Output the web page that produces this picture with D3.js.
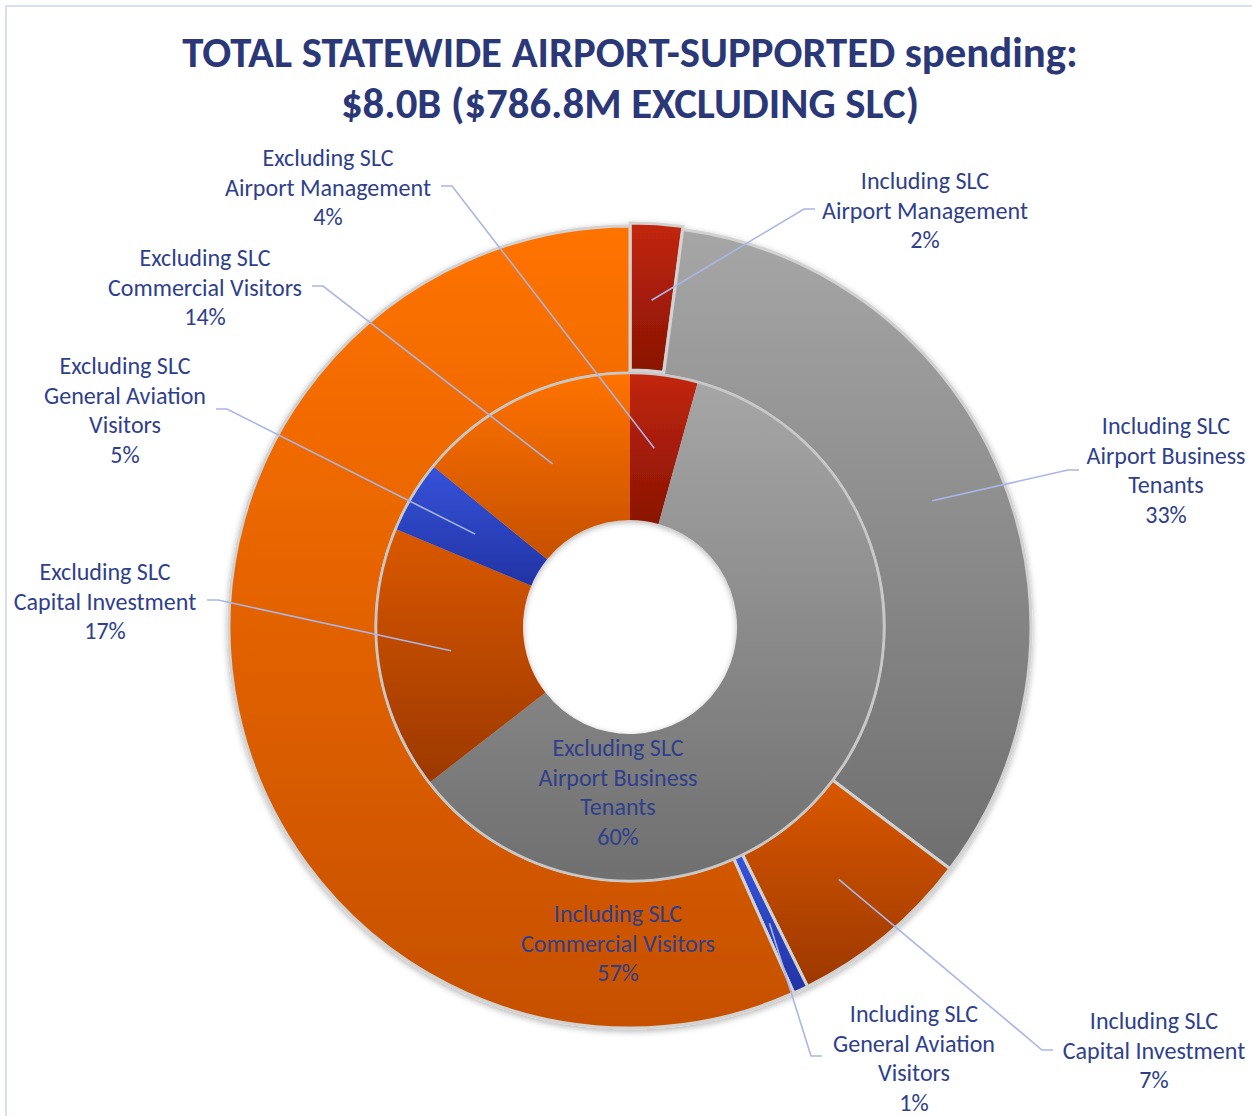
<!DOCTYPE html>
<html>
<head>
<meta charset="utf-8">
<script src="https://cdn.jsdelivr.net/npm/d3@7"></script>
<style>
  body { margin: 0; background: #fff; }
  svg { display: block; }
  .title { font-family: Carlito, Lato, "Open Sans", sans-serif; font-weight: 700; fill: #2b3878; }
  .label { font-family: Carlito, Lato, "Open Sans", sans-serif; fill: #2f3f8c; }
  .leader { fill: none; stroke: #a9b6e6; stroke-width: 1.6; }
</style>
</head>
<body>
<div id="chart"></div>
<script>
// data (percent of total)
var categories = ["Airport Management", "Airport Business Tenants", "Capital Investment",
                  "General Aviation Visitors", "Commercial Visitors"];
var categoryLines = [["Airport Management"], ["Airport Business", "Tenants"], ["Capital Investment"],
                     ["General Aviation", "Visitors"], ["Commercial Visitors"]];
var includingSLC = [2.1, 33.2, 7.4, 0.6, 56.7];
var excludingSLC = [4.3, 60.2, 16.8, 4.6, 14.1];
var titleLines = ["TOTAL STATEWIDE AIRPORT-SUPPORTED spending:", "$8.0B ($786.8M EXCLUDING SLC)"];

var colorStops = [
    ["#c2260c", "#891404"],
    ["#a6a6a6", "#6f6f6f"],
    ["#da5800", "#9c3802"],
    ["#3653da", "#2233a4"],
    ["#ff7300", "#c65000"]
];

// label placement (text centre, leader end), chosen by hand like the original
var outerLayout = [
    {x: 925, y: 181, end: [815, 209]},
    {x: 1166, y: 426, end: [1079, 470]},
    {x: 1154, y: 1021, end: [1053, 1050]},
    {x: 914, y: 1014, end: [822, 1056]},
    {x: 618, y: 914, end: null}
];
var innerLayout = [
    {x: 328, y: 158, end: [441, 186]},
    {x: 618, y: 748, end: null},
    {x: 105, y: 572, end: [207, 600]},
    {x: 125, y: 366, end: [216, 409]},
    {x: 205, y: 258, end: [312, 286]}
];

var width = 1252, height = 1116;
var cx = 630, cy = 627;
var rHole = 107, rMid = 254, rOuter = 401;

var svg = d3.select("#chart").append("svg")
    .attr("width", width)
    .attr("height", height);

var defs = svg.append("defs");
colorStops.forEach(function(c, i) {
    var g = defs.append("linearGradient")
        .attr("id", "grad" + i)
        .attr("x1", 0).attr("y1", 0).attr("x2", 0).attr("y2", 1);
    g.append("stop").attr("offset", "0%").attr("stop-color", c[0]);
    g.append("stop").attr("offset", "100%").attr("stop-color", c[1]);
});
var shadow = defs.append("filter").attr("id", "shadow")
    .attr("x", "-10%").attr("y", "-10%").attr("width", "120%").attr("height", "120%");
shadow.append("feDropShadow")
    .attr("dx", 0).attr("dy", 2)
    .attr("stdDeviation", 3)
    .attr("flood-color", "#000")
    .attr("flood-opacity", 0.3);

// frame
svg.append("rect")
    .attr("x", 6).attr("y", 6)
    .attr("width", width + 20).attr("height", height + 20)
    .attr("fill", "none")
    .attr("stroke", "#d9def3")
    .attr("stroke-width", 2);

// title
var title = svg.append("g");
title.selectAll("text")
    .data(titleLines)
    .enter()
    .append("text")
    .attr("class", "title")
    .attr("x", cx)
    .attr("y", function(d, i) { return 67 + i * 51; })
    .attr("text-anchor", "middle")
    .style("font-size", "40px")
    .text(function(d) { return d; });
var tw = title.select("text").node().getComputedTextLength();
title.selectAll("text").style("font-size", (40 * 896 / tw) + "px");

var pie = d3.pie().sort(null).value(function(d) { return d; });
var outerArc = d3.arc().innerRadius(rMid).outerRadius(rOuter);
var innerArc = d3.arc().innerRadius(rHole).outerRadius(rMid);

var outerData = pie(includingSLC);
var innerData = pie(excludingSLC);

var donut = svg.append("g")
    .attr("transform", "translate(" + cx + "," + cy + ")")
    .attr("filter", "url(#shadow)");

donut.selectAll("path.outer")
    .data(outerData)
    .enter()
    .append("path")
    .attr("class", "outer")
    .attr("d", outerArc)
    .attr("transform", function(d, i) {
        // the small management slice is pulled out a little
        if (i !== 0) return null;
        var a = (d.startAngle + d.endAngle) / 2;
        return "translate(" + (3 * Math.sin(a)) + "," + (-3 * Math.cos(a)) + ")";
    })
    .attr("fill", function(d, i) { return "url(#grad" + i + ")"; })
    .attr("stroke", "#d2d2d2")
    .attr("stroke-width", 3);

donut.selectAll("path.inner")
    .data(innerData)
    .enter()
    .append("path")
    .attr("class", "inner")
    .attr("d", innerArc)
    .attr("fill", function(d, i) { return "url(#grad" + i + ")"; });

donut.append("circle")
    .attr("r", rMid)
    .attr("fill", "none")
    .attr("stroke", "#c8c8c8")
    .attr("stroke-width", 2.5);

// labels
var probe = svg.append("text").attr("class", "label").style("font-size", "24px").text("Airport Management");
var labelSize = 24 * 206 / probe.node().getComputedTextLength();
probe.remove();
var lineH = 29.5;

function drawLabels(data, arc, layout, prefix) {
    data.forEach(function(d, i) {
        var lay = layout[i];
        var lines = [prefix].concat(categoryLines[i]).concat([Math.round(d.data) + "%"]);
        if (lay.end) {
            var c = arc.centroid(d);
            var start = [cx + c[0], cy + c[1]];
            var side = lay.end[0] > lay.x ? 1 : -1;   // label left of its leader end?
            var elbow = [lay.end[0] + side * 11, lay.end[1]];
            svg.append("path")
                .attr("class", "leader")
                .attr("d", d3.line()([start, elbow, lay.end]));
        }
        var t = svg.append("text")
            .attr("class", "label")
            .attr("text-anchor", "middle")
            .style("font-size", labelSize + "px");
        lines.forEach(function(s, j) {
            t.append("tspan")
                .attr("x", lay.x)
                .attr("y", lay.y + j * lineH)
                .attr("dy", "0.35em")
                .text(s);
        });
    });
}

drawLabels(outerData, outerArc, outerLayout, "Including SLC");
drawLabels(innerData, innerArc, innerLayout, "Excluding SLC");
</script>
</body>
</html>
